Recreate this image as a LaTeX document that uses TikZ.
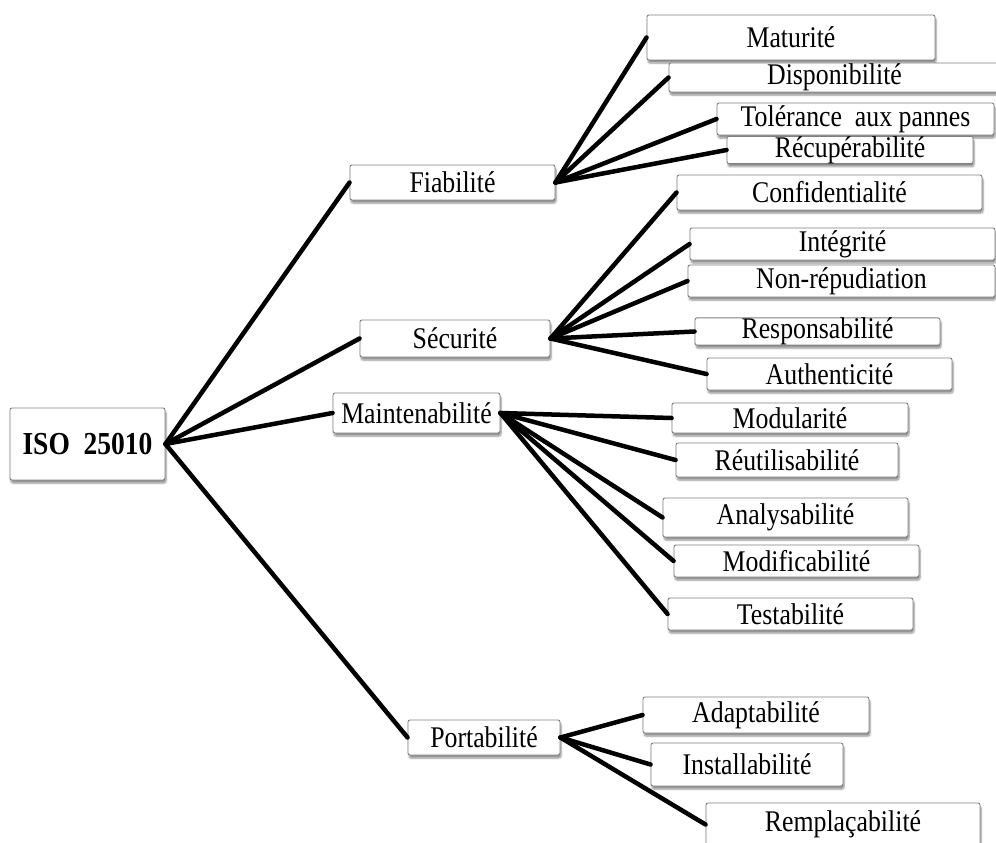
\documentclass[tikz,border=0pt]{standalone}
\usepackage{fontspec}
\setmainfont{Liberation Serif}[FakeStretch=0.86]
\usetikzlibrary{shadows.blur}
\begin{document}
\begin{tikzpicture}[x=1pt,y=-1pt,
  box/.style={draw=black!50, line width=0.9pt, fill=white, rounded corners=2pt,
    inner sep=0pt, font=\fontsize{30}{33}\selectfont,
    blur shadow={shadow xshift=1pt, shadow yshift=-3pt, shadow blur steps=6, shadow opacity=45}},
  rootbox/.style={box, font=\fontsize{32}{36}\selectfont\bfseries},
  link/.style={line width=4.5pt, line cap=round}]
\useasboundingbox (0,0) rectangle (996,843);

% root and first level
\node[rootbox, minimum width=155pt, minimum height=72pt] (iso) at (87.5,444) {ISO~ 25010};
\node[box, minimum width=205pt, minimum height=35pt] (fia) at (452.5,182.5) {Fiabilité};
\node[box, minimum width=190pt, minimum height=37pt] (sec) at (455,338.5) {Sécurité};
\node[box, minimum width=167pt, minimum height=40pt] (mai) at (416.5,413) {Maintenabilité};
\node[box, minimum width=152pt, minimum height=35pt] (por) at (484,737.5) {Portabilité};

% Fiabilité
\node[box, minimum width=288pt, minimum height=45pt] (mat) at (791,37.5) {Maturité};
\node[box, minimum width=331pt, minimum height=29pt] (dis) at (834.5,77.5) {Disponibilité};
\node[box, minimum width=277pt, minimum height=32pt] (tol) at (855.5,119) {Tolérance~ aux pannes};
\node[box, minimum width=246pt, minimum height=26pt] (rec) at (850,150) {Récupérabilité};

% Sécurité
\node[box, minimum width=305pt, minimum height=35pt] (con) at (829.5,192.5) {Confidentialité};
\node[box, minimum width=305pt, minimum height=32pt] (int) at (842.5,244) {Intégrité};
\node[box, minimum width=307pt, minimum height=32pt] (nrp) at (841.5,281) {Non-répudiation};
\node[box, minimum width=245pt, minimum height=27pt] (res) at (817.5,331.5) {Responsabilité};
\node[box, minimum width=245pt, minimum height=32pt] (aut) at (829.5,374) {Authenticité};

% Maintenabilité
\node[box, minimum width=236pt, minimum height=30pt] (mod) at (790,418) {Modularité};
\node[box, minimum width=222pt, minimum height=34pt] (reu) at (787,460) {Réutilisabilité};
\node[box, minimum width=245pt, minimum height=39pt] (ana) at (785.5,517.5) {Analysabilité};
\node[box, minimum width=245pt, minimum height=32pt] (mdf) at (796.5,561) {Modificabilité};
\node[box, minimum width=245pt, minimum height=32pt] (tes) at (790.5,614) {Testabilité};

% Portabilité
\node[box, minimum width=226pt, minimum height=36pt] (ada) at (756,715) {Adaptabilité};
\node[box, minimum width=192pt, minimum height=43pt] (ins) at (747,764.5) {Installabilité};
\node[box, minimum width=274pt, minimum height=43pt] (rem) at (843,824.5) {Remplaçabilité};

% connectors
\foreach \c in {fia,sec,mai,por} \draw[link] (iso.east) -- (\c.west);
\foreach \c in {mat,dis,tol,rec} \draw[link] (fia.east) -- (\c.west);
\foreach \c in {con,int,nrp,res,aut} \draw[link] (sec.east) -- (\c.west);
\foreach \c in {mod,reu,ana,mdf,tes} \draw[link] (mai.east) -- (\c.west);
\foreach \c in {ada,ins,rem} \draw[link] (por.east) -- (\c.west);
\end{tikzpicture}
\end{document}
